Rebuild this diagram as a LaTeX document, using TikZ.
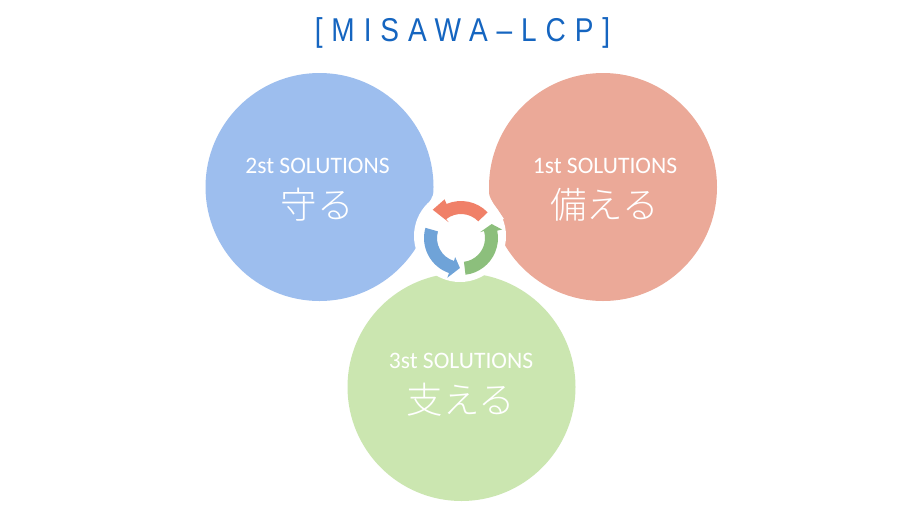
\documentclass[tikz,border=0pt]{standalone}
\usepackage{fontspec}
\setmainfont{Carlito}
\newfontfamily\cjkfont{Noto Sans CJK JP Light}
\newfontfamily\titlefont[FakeStretch=0.85,LetterSpace=27]{Liberation Sans}
\usetikzlibrary{positioning}
\definecolor{bluedisc}{HTML}{9DBEEE}
\definecolor{reddisc}{HTML}{EBA998}
\definecolor{greendisc}{HTML}{CBE6B0}
\definecolor{titleblue}{HTML}{1565C0}
\definecolor{redarrow}{HTML}{F08068}
\definecolor{bluearrow}{HTML}{6FA3D8}
\definecolor{greenarrow}{HTML}{8CBF7C}
\tikzset{
  disc/.style={circle,minimum size=228pt,inner sep=0pt},
  soltext/.style={text=white,font=\fontsize{23.6}{26}\selectfont},
  jptext/.style={text=white,font=\cjkfont\fontsize{36.5}{40}\selectfont},
  gap/.style={fill=white,draw=none},
}
% start angle, head base angles (outer, inner), tip angle, tip radius
\newcommand{\cyclearrow}[6]{
\fill[#6] (#1:37) arc[start angle=#1,end angle=#2,radius=37] -- (#2:42) -- (#4:#5) -- (#3:20) -- (#3:24) arc[start angle=#3,end angle=#1,radius=24] -- cycle;
}
\begin{document}
\begin{tikzpicture}[x=1pt,y=1pt]
\useasboundingbox (0,0) rectangle (920,-520);
\fill[white] (0,0) rectangle (920,-520);
\node[text=titleblue,font=\titlefont\fontsize{33}{36}\selectfont] (title) at (462.5,-33) {[MISAWA–LCP]};
\node[disc,fill=bluedisc] (blue) at (319.5,-187) {};
\node[disc,fill=reddisc] (red) at (603,-187) {};
\node[disc,fill=greendisc] (green) at (461.5,-387) {};
% white hub with the corners
\fill[gap] (460,-236) circle (46);
\fill[gap] (434,-192) .. controls (431,-202) and (424,-210) .. (418,-219) -- (445,-225) -- cycle;
\fill[gap] (402,-266) .. controls (408,-262) and (414,-256) .. (418,-250) -- (445,-240) -- cycle;
\fill[gap] (488,-192) .. controls (491,-202) and (498,-210) .. (504,-219) -- (477,-225) -- cycle;
\fill[gap] (520,-266) .. controls (514,-262) and (508,-256) .. (504,-250) -- (477,-240) -- cycle;
\begin{scope}[shift={(461,-238)}]
\cyclearrow{44}{113}{128}{135}{40}{redarrow}
\cyclearrow{164}{251}{253}{268}{30}{bluearrow}
\cyclearrow{277}{371.6}{377}{384.5}{33.7}{greenarrow}
\end{scope}
\node[soltext] (sol2) at (317.5,-166) {2st SOLUTIONS};
\node[jptext] (jp2) at (317,-205) {守る};
\node[soltext] (sol1) at (605,-166) {1st SOLUTIONS};
\node[jptext] (jp1) at (604.5,-205) {備える};
\node[soltext] (sol3) at (461,-361) {3st SOLUTIONS};
\node[jptext] (jp3) at (461,-400) {支える};
\end{tikzpicture}
\end{document}
